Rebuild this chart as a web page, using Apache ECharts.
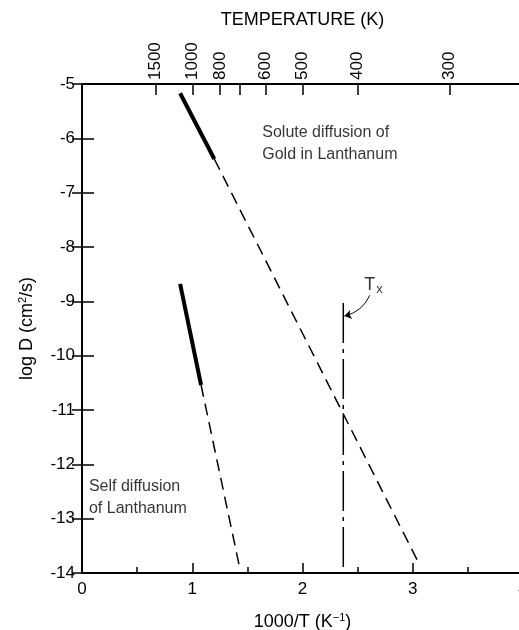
<!DOCTYPE html>
<html>
<head>
  <meta charset="utf-8">
  <title>log D vs 1000/T</title>
  <script src="https://cdn.jsdelivr.net/npm/echarts@6/dist/echarts.min.js"></script>
  <style>
    html, body { margin: 0; padding: 0; background: #fff; }
    #chart { width: 519px; height: 630px; }
  </style>
</head>
<body>
<div id="chart"></div>
<script>
  // lines: [1000/T, log D]
  const goldSolid  = [[0.89, -5.17], [1.20, -6.38]];
  const goldDashed = [[1.20, -6.38], [3.05, -13.80]];
  const selfSolid  = [[0.89, -8.68], [1.08, -10.54]];
  const selfDashed = [[1.08, -10.54], [1.43, -13.90]];
  const txLine     = [[2.37, -9.03], [2.37, -13.90]];
  const txArrow    = [[2.61, -8.89], [2.38, -9.27]];

  // top axis (temperature in K)
  const tempTicks  = [1500, 1000, 800, 700, 600, 500, 400, 300];
  const tempLabels = [1500, 1000, 800, 600, 500, 400, 300];

  // text notes placed in data coords
  const notes = [
    { x: 1.635, y: -6.10, text: 'Solute diffusion of\nGold in Lanthanum' },
    { x: 0.063, y: -12.61, text: 'Self diffusion\nof Lanthanum' }
  ];
  const txNote = { x: 2.56, y: -8.70 };

  const ink = '#000';
  const font = 'Liberation Sans';

  let chart = echarts.init(document.getElementById('chart'));

  const line = (data, width, type) => ({
    type: 'line',
    data: data,
    symbol: 'none',
    silent: true,
    lineStyle: { color: ink, width: width, type: type || 'solid' }
  });

  chart.setOption({
    animation: false,
    backgroundColor: '#fff',
    textStyle: { fontFamily: font, color: ink },
    grid: { left: 82, top: 84, right: -4, bottom: 57, outerBoundsMode: 'none', containLabel: false },
    xAxis: [
      {
        type: 'value', position: 'bottom', min: 0, max: 4, interval: 1,
        axisLine: { lineStyle: { color: ink, width: 2 } },
        axisTick: { inside: true, length: 10, lineStyle: { color: ink, width: 1.5 } },
        minorTick: { show: true, splitNumber: 2, length: 6, lineStyle: { color: ink, width: 1.5 } },
        splitLine: { show: false },
        axisLabel: { fontSize: 17, color: ink, margin: 8, fontFamily: font },
        name: '1000/T (K{sup|\u22121})',
        nameLocation: 'middle', nameGap: 39,
        nameTextStyle: {
          fontSize: 18, color: ink, fontFamily: font,
          rich: { sup: { fontSize: 11, verticalAlign: 'top', padding: [0, 0, 10, 0], fontFamily: font } }
        }
      },
      {
        type: 'value', position: 'top', min: 0, max: 4,
        axisLine: { lineStyle: { color: ink, width: 2 } },
        axisTick: {
          inside: true, length: 11,
          customValues: tempTicks.map(t => 1000 / t),
          lineStyle: { color: ink, width: 1.5 }
        },
        splitLine: { show: false },
        axisLabel: {
          customValues: tempLabels.map(t => 1000 / t),
          formatter: v => String(Math.round(1000 / v)),
          rotate: -90, fontSize: 17, color: ink, margin: 4, fontFamily: font
        },
        name: 'TEMPERATURE (K)',
        nameLocation: 'middle', nameGap: 55,
        nameTextStyle: { fontSize: 18, color: ink, fontFamily: font }
      }
    ],
    yAxis: [
      {
        type: 'value', position: 'left', min: -14, max: -5, interval: 1,
        axisLine: { lineStyle: { color: ink, width: 2 } },
        axisTick: { inside: true, length: 12, lineStyle: { color: ink, width: 1.5 } },
        splitLine: { show: false },
        axisLabel: { fontSize: 17, color: ink, margin: 7, fontFamily: font },
        name: 'log D (cm{sup|2}/s)',
        nameLocation: 'middle', nameGap: 44,
        nameTextStyle: {
          fontSize: 18, color: ink, fontFamily: font,
          rich: { sup: { fontSize: 11, verticalAlign: 'top', padding: [0, 0, 10, 0], fontFamily: font } }
        }
      },
      {
        type: 'value', position: 'right', min: -14, max: -5, interval: 1,
        axisLine: { lineStyle: { color: ink, width: 2 } },
        axisTick: { inside: true, length: 10, lineStyle: { color: ink, width: 1.5 } },
        splitLine: { show: false },
        axisLabel: { show: false }
      }
    ],
    series: [
      line(goldSolid, 4),
      line(goldDashed, 1.5, [12, 7]),
      line(selfSolid, 4),
      line(selfDashed, 1.5, [12, 7]),
      line(txLine, 1.5, [40, 6, 4, 6]),
      {
        type: 'lines',
        coordinateSystem: 'cartesian2d',
        silent: true,
        symbol: ['none', 'arrow'],
        symbolSize: 7,
        lineStyle: { color: ink, width: 1, opacity: 1, curveness: 0.25 },
        data: [{ coords: txArrow }]
      },
      {
        type: 'scatter',
        symbolSize: 0,
        silent: true,
        data: notes.map(n => ({ value: [n.x, n.y], name: n.text })),
        label: {
          show: true, position: 'right', distance: 0,
          formatter: p => p.name,
          fontSize: 16, lineHeight: 22, color: ink, fontFamily: font
        }
      },
      {
        type: 'scatter',
        symbolSize: 0,
        silent: true,
        data: [{ value: [txNote.x, txNote.y], name: 'Tx' }],
        label: {
          show: true, position: 'right', distance: 0,
          formatter: '{t|T}{s|x}',
          rich: {
            t: { fontSize: 18, color: ink, fontFamily: font },
            s: { fontSize: 13, color: ink, fontFamily: font, padding: [8, 0, 0, 1] }
          }
        }
      }
    ]
  });
</script>
</body>
</html>
